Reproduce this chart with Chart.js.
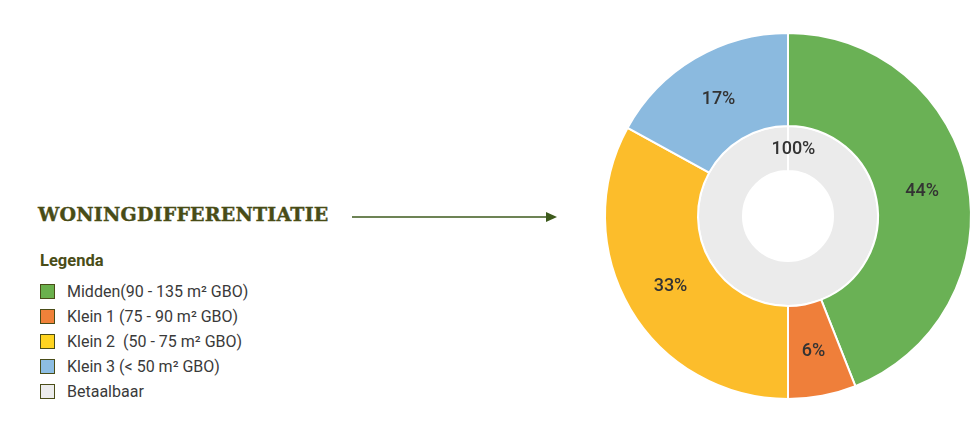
<!DOCTYPE html>
<html>
<head>
<meta charset="utf-8">
<script src="https://cdn.jsdelivr.net/npm/chart.js@4/dist/chart.umd.min.js"></script>
<style>
  body { margin: 0; width: 976px; height: 428px; background: #fff; position: relative; overflow: hidden; font-family: Roboto, sans-serif; }
  #title { position: absolute; left: 38px; top: 204px; font: bold 19px "DejaVu Serif", serif; color: #484c16; line-height: 20px; letter-spacing: 0.2px; -webkit-text-stroke: 0.4px #484c16; }
  #arrow { position: absolute; left: 350px; top: 210px; }
  #legendTitle { position: absolute; left: 40px; top: 251px; font: bold 16.5px Roboto, sans-serif; color: #4a4d18; }
  #legend { position: absolute; left: 40px; top: 279px; }
  .item { height: 25px; display: flex; align-items: center; }
  .box { width: 13px; height: 13px; border: 1.5px solid #4a4d18; margin-right: 12px; }
  .txt { font-size: 16px; color: #3a3a3a; white-space: pre; }
  #wrap { position: absolute; left: 600px; top: 28px; width: 376px; height: 376px; }
</style>
</head>
<body>
<div id="title">WONINGDIFFERENTIATIE</div>
<svg id="arrow" width="212" height="14">
  <line x1="2" y1="7" x2="198" y2="7" stroke="#3d5a1c" stroke-width="1.6"/>
  <polygon points="196,2 207,7 196,12" fill="#3d5a1c"/>
</svg>
<div id="legendTitle">Legenda</div>
<div id="legend"></div>
<div id="wrap"><canvas id="donut"></canvas></div>
<script>
let categories = ['Midden', 'Klein 1', 'Klein 2', 'Klein 3'];
let shares = [44, 6, 33, 17];
let colors = ['#6ab155', '#ef7f3a', '#fcbd2b', '#8bbadf'];

let innerCategory = ['Betaalbaar'];
let innerShare = [100];
let innerColor = ['#ebebeb'];

let legendTexts = ['Midden(90 - 135 m² GBO)', 'Klein 1 (75 - 90 m² GBO)', 'Klein 2  (50 - 75 m² GBO)', 'Klein 3 (< 50 m² GBO)', 'Betaalbaar'];
let legendColors = ['#6ab04c', '#f08139', '#ffd420', '#8dbde2', '#ececec'];

// html legend on the left
let legend = document.getElementById('legend');
legendTexts.forEach(function (t, i) {
	let row = document.createElement('div');
	row.className = 'item';
	row.innerHTML = '<div class="box" style="background:' + legendColors[i] + '"></div><span class="txt"></span>';
	row.querySelector('.txt').textContent = t;
	legend.appendChild(row);
});

// draws the percentage in the middle of each arc
let arcLabels = {
	id: 'arcLabels',
	afterDatasetsDraw(chart) {
		let ctx = chart.ctx;
		ctx.save();
		ctx.font = '500 18px Roboto';
		ctx.fillStyle = '#333';
		ctx.textAlign = 'center';
		ctx.textBaseline = 'middle';
		chart.data.datasets.forEach(function (ds, di) {
			chart.getDatasetMeta(di).data.forEach(function (arc, i) {
				let p = arc.getProps(['x', 'y', 'startAngle', 'endAngle', 'innerRadius', 'outerRadius']);
				let a = (p.startAngle + p.endAngle) / 2;
				// a full ring gets its label at the top
				if (p.endAngle - p.startAngle >= Math.PI * 2 - 0.001) a = p.startAngle + 0.08;
				let r = (p.innerRadius + p.outerRadius) / 2;
				ctx.fillText(ds.data[i] + '%', p.x + Math.cos(a) * r, p.y + Math.sin(a) * r + 1);
			});
		});
		ctx.restore();
	}
};

let myChart = document.getElementById('donut').getContext('2d');

let chart = new Chart(myChart, {
	type: 'doughnut',
	data: {
		labels: categories,
		datasets: [
		{
			data: shares,
			backgroundColor: colors,
			borderColor: '#fff',
			borderWidth: 2,
			weight: 93
		},
		{
			label: innerCategory[0],
			data: innerShare,
			backgroundColor: innerColor,
			borderColor: '#fff',
			borderWidth: 2,
			weight: 45
		}
		]
	},
	options: {
		responsive: true,
		maintainAspectRatio: false,
		animation: false,
		cutout: '24.6%',
		layout: { padding: 4 },
		plugins: {
			legend: { display: false },
			tooltip: { enabled: false }
		}
	},
	plugins: [arcLabels]
});
</script>
</body>
</html>
